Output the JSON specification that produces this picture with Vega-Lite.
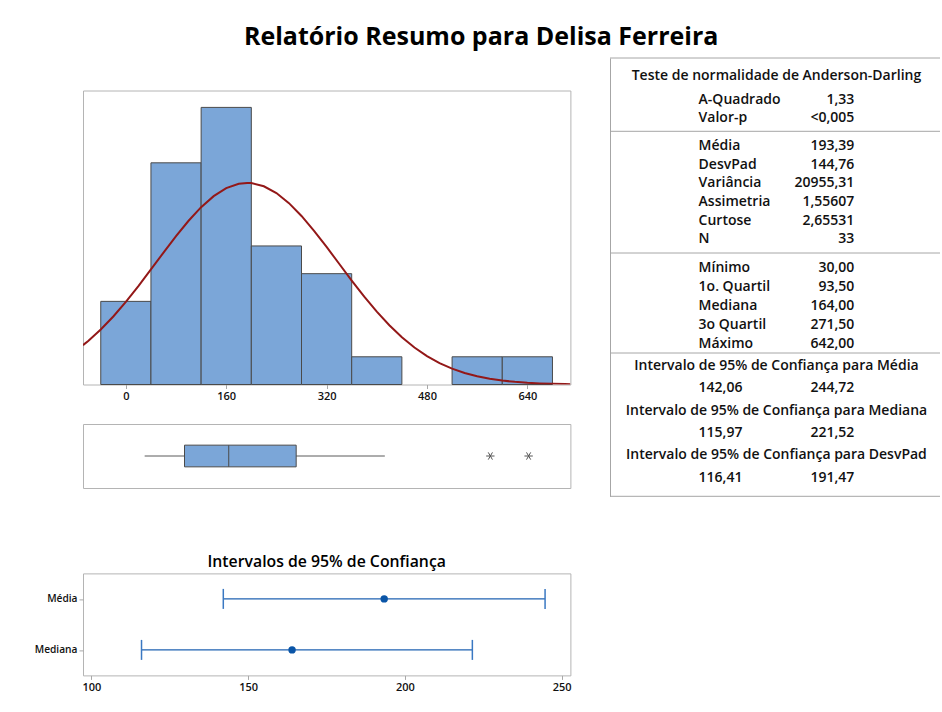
{
  "$schema": "https://vega.github.io/schema/vega-lite/v6.json",
  "background": "white",
  "padding": {"left": 33, "top": 24, "right": 0, "bottom": 0},
  "title": {"text": "Relatório Resumo para Delisa Ferreira", "font": "Open Sans", "fontSize": 25, "fontWeight": "bold", "color": "#000000", "anchor": "middle", "baseline": "alphabetic", "offset": -12.3, "dx": -6},
  "config": {
    "font": "Open Sans",
    "view": {"stroke": "#b4b4b4", "strokeWidth": 1},
    "axis": {"labelFont": "Open Sans", "labelFontWeight": 600, "labelFontSize": 11, "labelColor": "#111111", "tickColor": "#a8a8a8", "domain": false, "grid": false}
  },
  "datasets": {
    "classes": [
      {"inicio": -40, "fim": 40, "freq": 3},
      {"inicio": 40, "fim": 120, "freq": 8},
      {"inicio": 120, "fim": 200, "freq": 10},
      {"inicio": 200, "fim": 280, "freq": 5},
      {"inicio": 280, "fim": 360, "freq": 4},
      {"inicio": 360, "fim": 440, "freq": 1},
      {"inicio": 520, "fim": 600, "freq": 1},
      {"inicio": 600, "fim": 680, "freq": 1}
    ],
    "curva": [
      {"x": -68.3, "y": 1.42}, {"x": -60, "y": 1.572}, {"x": -40, "y": 1.983}, {"x": -20, "y": 2.455},
      {"x": 0, "y": 2.981}, {"x": 20, "y": 3.551}, {"x": 40, "y": 4.151}, {"x": 60, "y": 4.759},
      {"x": 80, "y": 5.354}, {"x": 100, "y": 5.909}, {"x": 120, "y": 6.399}, {"x": 140, "y": 6.798},
      {"x": 160, "y": 7.085}, {"x": 180, "y": 7.245}, {"x": 193.39, "y": 7.276}, {"x": 200, "y": 7.268},
      {"x": 220, "y": 7.154}, {"x": 240, "y": 6.909}, {"x": 260, "y": 6.545}, {"x": 280, "y": 6.083},
      {"x": 300, "y": 5.547}, {"x": 320, "y": 4.963}, {"x": 340, "y": 4.357}, {"x": 360, "y": 3.752},
      {"x": 380, "y": 3.17}, {"x": 400, "y": 2.628}, {"x": 420, "y": 2.137}, {"x": 440, "y": 1.705},
      {"x": 460, "y": 1.334}, {"x": 480, "y": 1.025}, {"x": 500, "y": 0.772}, {"x": 520, "y": 0.571},
      {"x": 540, "y": 0.414}, {"x": 560, "y": 0.295}, {"x": 580, "y": 0.206}, {"x": 600, "y": 0.141},
      {"x": 620, "y": 0.095}, {"x": 640, "y": 0.062}, {"x": 660, "y": 0.04}, {"x": 680, "y": 0.026},
      {"x": 700, "y": 0.016}, {"x": 708.6, "y": 0.013}
    ],
    "caixa": [
      {"var": "Delisa Ferreira", "min": 30, "q1": 93.5, "med": 164, "q3": 271.5, "lsup": 412.8}
    ],
    "atipicos": [
      {"var": "Delisa Ferreira", "valor": 581},
      {"var": "Delisa Ferreira", "valor": 642}
    ],
    "ic": [
      {"est": "Média", "valor": 193.39, "inf": 142.06, "sup": 244.72},
      {"est": "Mediana", "valor": 164, "inf": 115.97, "sup": 221.52}
    ],
    "tabela": [
      {"t": "Teste de normalidade de Anderson-Darling", "col": "centro", "y": 18.3},
      {"t": "A-Quadrado", "col": "rotulo", "y": 41.6},
      {"t": "1,33", "col": "valor", "y": 41.6},
      {"t": "Valor-p", "col": "rotulo", "y": 60.0},
      {"t": "<0,005", "col": "valor", "y": 60.0},
      {"t": "Média", "col": "rotulo", "y": 88.3},
      {"t": "193,39", "col": "valor", "y": 88.3},
      {"t": "DesvPad", "col": "rotulo", "y": 106.6},
      {"t": "144,76", "col": "valor", "y": 106.6},
      {"t": "Variância", "col": "rotulo", "y": 125.0},
      {"t": "20955,31", "col": "valor", "y": 125.0},
      {"t": "Assimetria", "col": "rotulo", "y": 144.0},
      {"t": "1,55607", "col": "valor", "y": 144.0},
      {"t": "Curtose", "col": "rotulo", "y": 162.6},
      {"t": "2,65531", "col": "valor", "y": 162.6},
      {"t": "N", "col": "rotulo", "y": 180.6},
      {"t": "33", "col": "valor", "y": 180.6},
      {"t": "Mínimo", "col": "rotulo", "y": 210.0},
      {"t": "30,00", "col": "valor", "y": 210.0},
      {"t": "1o. Quartil", "col": "rotulo", "y": 229.3},
      {"t": "93,50", "col": "valor", "y": 229.3},
      {"t": "Mediana", "col": "rotulo", "y": 248.3},
      {"t": "164,00", "col": "valor", "y": 248.3},
      {"t": "3o Quartil", "col": "rotulo", "y": 267.3},
      {"t": "271,50", "col": "valor", "y": 267.3},
      {"t": "Máximo", "col": "rotulo", "y": 286.0},
      {"t": "642,00", "col": "valor", "y": 286.0},
      {"t": "Intervalo de 95% de Confiança para Média", "col": "centro", "y": 308.3},
      {"t": "142,06", "col": "rotulo", "y": 330.0},
      {"t": "244,72", "col": "valor", "y": 330.0},
      {"t": "Intervalo de 95% de Confiança  para Mediana", "col": "centro", "y": 352.6},
      {"t": "115,97", "col": "rotulo", "y": 375.0},
      {"t": "221,52", "col": "valor", "y": 375.0},
      {"t": "Intervalo de 95% de Confiança  para DesvPad", "col": "centro", "y": 396.6},
      {"t": "116,41", "col": "rotulo", "y": 420.0},
      {"t": "191,47", "col": "valor", "y": 420.0}
    ],
    "separadores": [
      {"y": 0}, {"y": 73.3}, {"y": 195.0}, {"y": 295.0}, {"y": 438.3}
    ]
  },
  "spacing": 37,
  "hconcat": [
    {
      "spacing": 63.4,
      "vconcat": [
        {
          "spacing": 20.5,
          "vconcat": [
            {
              "width": 487.4,
              "height": 11,
              "view": {"stroke": null},
              "data": {"values": [{"a": 1}]},
              "mark": {"type": "text", "text": ""}
            },
            {
              "width": 487.4,
              "height": 294,
              "layer": [
                {
                  "data": {"name": "classes"},
                  "mark": {"type": "rect", "fill": "#7ba6d8", "stroke": "#4a4a4a", "strokeWidth": 1},
                  "encoding": {
                    "x": {"field": "inicio", "type": "quantitative", "scale": {"domain": [-68.3, 708.6], "nice": false, "zero": false},
                          "axis": {"values": [0, 160, 320, 480, 640], "title": null, "tickSize": 4, "labelPadding": 2}},
                    "x2": {"field": "fim"},
                    "y": {"field": "freq", "type": "quantitative", "scale": {"domain": [0, 10.61], "nice": false}, "axis": null}
                  }
                },
                {
                  "data": {"name": "curva"},
                  "mark": {"type": "line", "color": "#931818", "strokeWidth": 2, "clip": true},
                  "encoding": {
                    "x": {"field": "x", "type": "quantitative"},
                    "y": {"field": "y", "type": "quantitative"}
                  }
                }
              ]
            },
            {
              "width": 487.4,
              "height": 64,
              "encoding": {
                "y": {"field": "var", "type": "nominal", "axis": null, "scale": {"paddingInner": 0, "paddingOuter": 0}}
              },
              "layer": [
                {
                  "data": {"name": "caixa"},
                  "mark": {"type": "rule", "color": "#5a5a5a", "strokeWidth": 1},
                  "encoding": {
                    "x": {"field": "min", "type": "quantitative", "scale": {"domain": [-68.3, 708.6], "nice": false, "zero": false}, "axis": null},
                    "x2": {"field": "lsup"}
                  }
                },
                {
                  "data": {"name": "caixa"},
                  "mark": {"type": "bar", "size": 21.7, "fill": "#7ba6d8", "stroke": "#4a4a4a", "strokeWidth": 1},
                  "encoding": {
                    "x": {"field": "q1", "type": "quantitative"},
                    "x2": {"field": "q3"}
                  }
                },
                {
                  "data": {"name": "caixa"},
                  "mark": {"type": "tick", "orient": "vertical", "size": 21.7, "thickness": 1, "color": "#4a4a4a", "opacity": 1},
                  "encoding": {
                    "x": {"field": "med", "type": "quantitative"}
                  }
                },
                {
                  "data": {"name": "atipicos"},
                  "mark": {"type": "point", "shape": "M -1 0 L 1 0 M -0.5 -0.866 L 0.5 0.866 M -0.5 0.866 L 0.5 -0.866", "size": 70, "filled": false, "stroke": "#555555", "strokeWidth": 1, "opacity": 1},
                  "encoding": {
                    "x": {"field": "valor", "type": "quantitative"}
                  }
                }
              ]
            }
          ]
        },
        {
          "width": 487.4,
          "height": 102,
          "title": {"text": "Intervalos de 95% de Confiança", "font": "Open Sans", "fontSize": 15.8, "fontWeight": 600, "color": "#000000", "anchor": "middle", "offset": 3},
          "data": {"name": "ic"},
          "encoding": {
            "y": {"field": "est", "type": "nominal", "sort": ["Média", "Mediana"], "scale": {"type": "point", "padding": 0.5}, "title": null,
                  "axis": {"tickSize": 4, "labelPadding": 2, "labelFontSize": 10.2}}
          },
          "layer": [
            {
              "mark": {"type": "rule", "color": "#1f62b2", "strokeWidth": 1.3},
              "encoding": {
                "x": {"field": "inf", "type": "quantitative", "scale": {"domain": [97.3, 252.8], "nice": false, "zero": false},
                      "axis": {"values": [100, 150, 200, 250], "title": null, "tickSize": 4, "labelPadding": 2, "labelFlush": false}},
                "x2": {"field": "sup"}
              }
            },
            {
              "mark": {"type": "tick", "orient": "vertical", "size": 20, "thickness": 1.5, "color": "#3a78c2", "opacity": 1},
              "encoding": {"x": {"field": "inf", "type": "quantitative"}}
            },
            {
              "mark": {"type": "tick", "orient": "vertical", "size": 20, "thickness": 1.5, "color": "#3a78c2", "opacity": 1},
              "encoding": {"x": {"field": "sup", "type": "quantitative"}}
            },
            {
              "mark": {"type": "point", "filled": true, "size": 55, "color": "#0a55a7", "opacity": 1},
              "encoding": {"x": {"field": "valor", "type": "quantitative"}}
            }
          ]
        }
      ]
    },
    {
      "width": 330,
      "height": 438.3,
      "view": {"stroke": null},
      "encoding": {
        "y": {"field": "y", "type": "quantitative", "scale": {"domain": [0, 438.3], "reverse": true, "nice": false, "zero": false},
              "axis": {"title": null, "domain": true, "domainColor": "#a6a6a6", "ticks": false, "labels": false, "grid": false}}
      },
      "layer": [
        {
          "data": {"name": "separadores"},
          "mark": {"type": "rule", "color": "#a6a6a6", "strokeWidth": 1},
          "encoding": {}
        },
        {
          "data": {"name": "tabela"},
          "transform": [{"filter": "datum.col === 'rotulo'"}],
          "mark": {"type": "text", "align": "left", "baseline": "middle", "font": "Open Sans", "fontSize": 14, "fontWeight": 600, "color": "#111111"},
          "encoding": {
            "x": {"field": "col", "type": "nominal", "scale": {"type": "point", "domain": ["rotulo", "centro", "valor"], "range": [88.6, 244.3], "padding": 0}, "axis": null},
            "text": {"field": "t"}
          }
        },
        {
          "data": {"name": "tabela"},
          "transform": [{"filter": "datum.col === 'centro'"}],
          "mark": {"type": "text", "align": "center", "baseline": "middle", "font": "Open Sans", "fontSize": 14, "fontWeight": 600, "color": "#111111"},
          "encoding": {
            "x": {"field": "col", "type": "nominal"},
            "text": {"field": "t"}
          }
        },
        {
          "data": {"name": "tabela"},
          "transform": [{"filter": "datum.col === 'valor'"}],
          "mark": {"type": "text", "align": "right", "baseline": "middle", "font": "Open Sans", "fontSize": 14, "fontWeight": 600, "color": "#111111"},
          "encoding": {
            "x": {"field": "col", "type": "nominal"},
            "text": {"field": "t"}
          }
        }
      ]
    }
  ]
}
